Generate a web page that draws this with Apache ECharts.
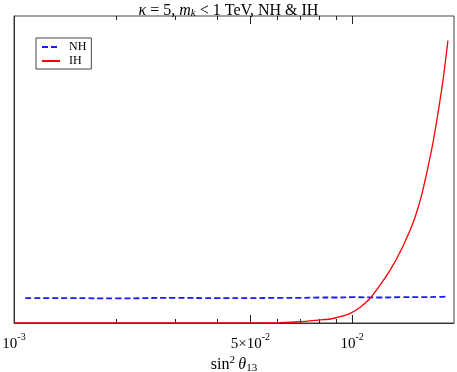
<!DOCTYPE html>
<html>
<head>
<meta charset="utf-8">
<script src="https://cdn.jsdelivr.net/npm/echarts@6/dist/echarts.min.js"></script>
<style>
html,body{margin:0;padding:0;background:#fff;}
#chart{width:457px;height:372px;}
</style>
</head>
<body>
<div id="chart"></div>
<script>
// sin^2 theta13 values and the two curves (arbitrary y units, 0..100)
var nhX = [0.00108, 0.0015, 0.002, 0.003, 0.004, 0.005, 0.006, 0.007, 0.008, 0.009, 0.010, 0.012, 0.014, 0.016, 0.018, 0.0189];
var nhY = [8.1, 8.1, 8.0, 8.2, 8.1, 8.1, 8.2, 8.2, 8.3, 8.3, 8.4, 8.3, 8.4, 8.4, 8.5, 8.6];
var ihX = [0.001, 0.002, 0.003, 0.004, 0.005, 0.00611, 0.00702, 0.00804, 0.00861, 0.00922, 0.00987, 0.01056, 0.0113, 0.0121, 0.01296, 0.01387, 0.01484, 0.01536, 0.01607, 0.01681, 0.01739, 0.018, 0.01862, 0.01919];
var ihY = [0, 0, 0, 0, 0.02, 0.1, 0.4, 1.0, 1.3, 2.05, 3.16, 5.11, 8.05, 12.4, 17.3, 23.2, 30.3, 34.6, 42.0, 51.5, 59.6, 69.4, 80.2, 92.0];

var minorTicks = [0.002, 0.003, 0.004, 0.006, 0.007, 0.008, 0.009];
var majorTicks = [0.001, 0.005, 0.01];
var tickBase = ['10', '5×10', '10'];
var tickExp = ['-3', '-2', '-2'];

var xMin = 0.001, xMax = 0.02;
var lg = function (v) { return Math.log10(v); };
var serif = 'Liberation Serif, DejaVu Serif, serif';

function pairs(xs, ys) { return xs.map(function (x, i) { return [x, ys[i]]; }); }

function tickAxis(pos, vals, len, showLabel) {
    return {
        type: 'value', gridIndex: 0, position: pos,
        min: lg(xMin), max: lg(xMax),
        axisLine: {show: false},
        splitLine: {show: false},
        axisTick: {show: true, inside: true, length: len, customValues: vals.map(lg),
                   lineStyle: {color: '#222', width: 1}},
        axisLabel: {
            show: showLabel, customValues: majorTicks.map(lg), margin: 9,
            fontFamily: serif, color: '#000',
            formatter: function (v) {
                var i = majorTicks.map(lg).findIndex(function (t) { return Math.abs(t - v) < 1e-6; });
                return i < 0 ? '' : '{b|' + tickBase[i] + '}{s|' + tickExp[i] + '}';
            },
            rich: {
                b: {fontSize: 15, fontFamily: serif, color: '#000', verticalAlign: 'bottom', lineHeight: 20},
                s: {fontSize: 10, fontFamily: serif, color: '#000', verticalAlign: 'top', lineHeight: 20, padding: [0, 0, 6, 0]}
            }
        }
    };
}

var chart = echarts.init(document.getElementById('chart'));
var option = {
    animation: false,
    title: {
        text: '{i|κ} = 5, {i|m}{sub|k} < 1 TeV, NH & IH',
        left: 'center', top: -3,
        textStyle: {
            fontSize: 16, fontWeight: 'normal', fontFamily: serif, color: '#000',
            rich: {
                i: {fontSize: 16, fontStyle: 'italic', fontFamily: serif, color: '#000'},
                sub: {fontSize: 11, fontStyle: 'italic', fontFamily: serif, color: '#000', padding: [6, 0, 0, 0]}
            }
        }
    },
    legend: {
        left: 36, top: 38, orient: 'vertical',
        padding: [3, 5, 2, 5], itemGap: 2,
        itemWidth: 18, itemHeight: 10,
        borderColor: '#444', borderWidth: 1,
        itemStyle: {opacity: 0},
        textStyle: {fontFamily: serif, fontSize: 12, color: '#000', padding: [0, 0, 0, 4]},
        data: ['NH', 'IH']
    },
    grid: {left: 14, right: 3, top: 16, bottom: 49, show: true, borderColor: '#444', borderWidth: 1,
           containLabel: false, outerBoundsMode: 'none'},
    xAxis: [
        {
            type: 'log', logBase: 10, min: xMin, max: xMax, position: 'bottom',
            name: '{r|sin}{sup|2} {i|θ}{sub|13}',
            nameLocation: 'middle', nameGap: 32,
            nameTextStyle: {
                rich: {
                    r: {fontSize: 16, fontFamily: serif, color: '#000'},
                    sup: {fontSize: 11, fontFamily: serif, color: '#000', padding: [0, 0, 8, 0]},
                    i: {fontSize: 16, fontStyle: 'italic', fontFamily: serif, color: '#000'},
                    sub: {fontSize: 11, fontFamily: serif, color: '#000', padding: [7, 0, 0, 0]}
                }
            },
            axisLine: {show: true, lineStyle: {color: '#333'}},
            axisTick: {show: false}, axisLabel: {show: false}, splitLine: {show: false}, minorTick: {show: false}
        },
        tickAxis('bottom', minorTicks, 4, false),
        tickAxis('bottom', [0.005, 0.01], 8, true),
        tickAxis('top', minorTicks, 4, false),
        tickAxis('top', [0.005, 0.01], 8, false)
    ],
    yAxis: {
        type: 'value', min: 0, max: 100,
        axisLine: {show: true, lineStyle: {color: '#333'}},
        axisTick: {show: false}, axisLabel: {show: false}, splitLine: {show: false}
    },
    series: [
        {
            name: 'NH', type: 'line', xAxisIndex: 0, symbol: 'none', smooth: true,
            lineStyle: {color: '#1a1aff', width: 1.8, type: [6, 3]},
            itemStyle: {color: '#1a1aff'},
            data: pairs(nhX, nhY)
        },
        {
            name: 'IH', type: 'line', xAxisIndex: 0, symbol: 'none', smooth: 0.2,
            lineStyle: {color: '#ff0000', width: 1.3},
            itemStyle: {color: '#ff0000'},
            data: pairs(ihX, ihY)
        }
    ]
};
chart.setOption(option);
</script>
</body>
</html>
